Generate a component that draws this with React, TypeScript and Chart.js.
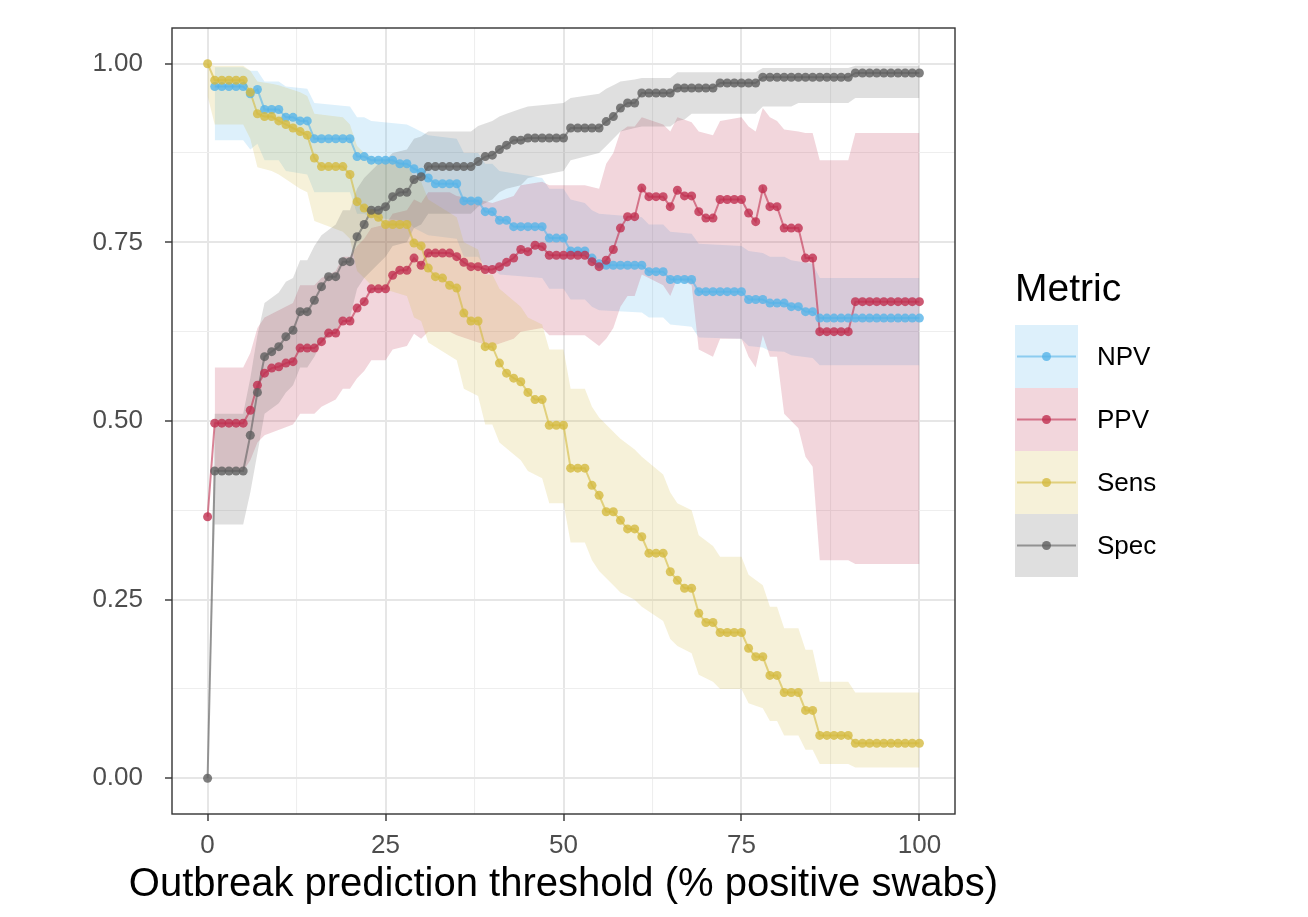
import React, { useEffect, useRef } from "react";
import { Chart, registerables } from "chart.js";

Chart.register(...registerables);

const FONT = "'Liberation Sans', Arial, Helvetica, sans-serif";

// Outbreak prediction threshold (% positive swabs)
const THRESHOLDS = [
  0, 1, 2, 3, 4, 5, 6, 7, 8, 9,
  10, 11, 12, 13, 14, 15, 16, 17, 18, 19,
  20, 21, 22, 23, 24, 25, 26, 27, 28, 29,
  30, 31, 32, 33, 34, 35, 36, 37, 38, 39,
  40, 41, 42, 43, 44, 45, 46, 47, 48, 49,
  50, 51, 52, 53, 54, 55, 56, 57, 58, 59,
  60, 61, 62, 63, 64, 65, 66, 67, 68, 69,
  70, 71, 72, 73, 74, 75, 76, 77, 78, 79,
  80, 81, 82, 83, 84, 85, 86, 87, 88, 89,
  90, 91, 92, 93, 94, 95, 96, 97, 98, 99,
  100,
];

const NPV = [
  null, 0.968, 0.968, 0.968, 0.968, 0.968, 0.958, 0.964, 0.936, 0.936,
  0.936, 0.925, 0.925, 0.92, 0.92, 0.895, 0.895, 0.895, 0.895, 0.895,
  0.895, 0.87, 0.87, 0.865, 0.865, 0.865, 0.865, 0.86, 0.86, 0.853,
  0.848, 0.84, 0.832, 0.832, 0.832, 0.832, 0.808, 0.808, 0.808, 0.793,
  0.793, 0.781, 0.781, 0.772, 0.772, 0.772, 0.772, 0.772, 0.756, 0.756,
  0.756, 0.738, 0.738, 0.738, 0.728, 0.72, 0.718, 0.718, 0.718, 0.718,
  0.718, 0.718, 0.709, 0.709, 0.709, 0.698, 0.698, 0.698, 0.698, 0.681,
  0.681, 0.681, 0.681, 0.681, 0.681, 0.681, 0.67, 0.67, 0.67, 0.665,
  0.665, 0.665, 0.66, 0.66, 0.653, 0.653, 0.644, 0.644, 0.644, 0.644,
  0.644, 0.644, 0.644, 0.644, 0.644, 0.644, 0.644, 0.644, 0.644, 0.644,
  0.644,
];

const PPV = [
  0.366, 0.497, 0.497, 0.497, 0.497, 0.497, 0.515, 0.55, 0.567, 0.574,
  0.576, 0.581, 0.583, 0.602, 0.602, 0.602, 0.611, 0.623, 0.623, 0.64,
  0.64, 0.658, 0.667, 0.685, 0.685, 0.685, 0.704, 0.711, 0.711, 0.728,
  0.718, 0.735, 0.735, 0.735, 0.735, 0.73, 0.722, 0.716, 0.716, 0.712,
  0.712, 0.716, 0.722, 0.728, 0.74, 0.737, 0.746, 0.744, 0.732, 0.732,
  0.732, 0.732, 0.732, 0.732, 0.723, 0.716, 0.725, 0.74, 0.77, 0.786,
  0.786, 0.826, 0.814, 0.814, 0.814, 0.8, 0.823, 0.815, 0.815, 0.793,
  0.784, 0.784, 0.81, 0.81, 0.81, 0.81, 0.791, 0.779, 0.825, 0.8,
  0.8, 0.77, 0.77, 0.77, 0.728, 0.728, 0.625, 0.625, 0.625, 0.625,
  0.625, 0.667, 0.667, 0.667, 0.667, 0.667, 0.667, 0.667, 0.667, 0.667,
  0.667,
];

const SENS = [
  1.0, 0.977, 0.977, 0.977, 0.977, 0.977, 0.96, 0.93, 0.926, 0.926,
  0.92, 0.915, 0.91, 0.905, 0.9, 0.868, 0.856, 0.856, 0.856, 0.856,
  0.845, 0.807, 0.798, 0.79, 0.785, 0.775, 0.775, 0.775, 0.775, 0.749,
  0.745, 0.714, 0.702, 0.7, 0.69, 0.686, 0.651, 0.64, 0.64, 0.604,
  0.604, 0.581, 0.567, 0.56, 0.555, 0.54, 0.53, 0.53, 0.494, 0.494,
  0.494, 0.434, 0.434, 0.434, 0.41, 0.396, 0.373, 0.373, 0.361, 0.349,
  0.349, 0.338, 0.315, 0.315, 0.315, 0.289, 0.277, 0.266, 0.266, 0.231,
  0.218, 0.218, 0.204, 0.204, 0.204, 0.204, 0.182, 0.17, 0.17, 0.144,
  0.144, 0.12, 0.12, 0.12, 0.095, 0.095, 0.06, 0.06, 0.06, 0.06,
  0.06, 0.049, 0.049, 0.049, 0.049, 0.049, 0.049, 0.049, 0.049, 0.049,
  0.049,
];

const SPEC = [
  0.0, 0.43, 0.43, 0.43, 0.43, 0.43, 0.48, 0.54, 0.59, 0.597,
  0.604, 0.618, 0.627, 0.653, 0.653, 0.669, 0.688, 0.702, 0.702, 0.723,
  0.723, 0.758, 0.775, 0.795, 0.795, 0.8, 0.814, 0.82, 0.82, 0.838,
  0.842, 0.856, 0.856, 0.856, 0.856, 0.856, 0.856, 0.856, 0.863, 0.87,
  0.872, 0.88, 0.886, 0.893, 0.893, 0.896, 0.896, 0.896, 0.896, 0.896,
  0.896, 0.91, 0.91, 0.91, 0.91, 0.91, 0.919, 0.926, 0.938, 0.945,
  0.945, 0.959, 0.959, 0.959, 0.959, 0.959, 0.966, 0.966, 0.966, 0.966,
  0.966, 0.966, 0.973, 0.973, 0.973, 0.973, 0.973, 0.973, 0.981, 0.981,
  0.981, 0.981, 0.981, 0.981, 0.981, 0.981, 0.981, 0.981, 0.981, 0.981,
  0.981, 0.987, 0.987, 0.987, 0.987, 0.987, 0.987, 0.987, 0.987, 0.987,
  0.987,
];

// Confidence bands: [threshold, lower, upper]
const NPV_BAND = [
  [1, 0.893, 0.995], [5, 0.893, 0.995], [6, 0.88, 0.99], [7, 0.888, 0.99],
  [8, 0.865, 0.975], [10, 0.865, 0.975], [11, 0.85, 0.968], [14, 0.845, 0.965],
  [15, 0.82, 0.945], [20, 0.82, 0.94], [21, 0.79, 0.925], [22, 0.79, 0.925],
  [23, 0.785, 0.92], [28, 0.78, 0.915], [29, 0.77, 0.91], [31, 0.76, 0.9],
  [35, 0.755, 0.895], [36, 0.73, 0.875], [38, 0.73, 0.875], [39, 0.715, 0.86],
  [40, 0.715, 0.86], [41, 0.705, 0.85], [47, 0.7, 0.84], [48, 0.685, 0.825],
  [50, 0.685, 0.825], [51, 0.67, 0.81], [53, 0.67, 0.805], [54, 0.66, 0.795],
  [55, 0.655, 0.79], [61, 0.652, 0.785], [62, 0.645, 0.775], [64, 0.645, 0.775],
  [65, 0.635, 0.765], [68, 0.632, 0.762], [69, 0.617, 0.748], [75, 0.615, 0.745],
  [76, 0.605, 0.738], [78, 0.603, 0.735], [79, 0.598, 0.73], [81, 0.597, 0.73],
  [82, 0.592, 0.725], [85, 0.588, 0.72], [86, 0.578, 0.7], [100, 0.578, 0.7],
];

const PPV_BAND = [
  [1, 0.43, 0.575], [5, 0.43, 0.575], [6, 0.445, 0.595], [7, 0.47, 0.63],
  [8, 0.48, 0.645], [12, 0.495, 0.665], [13, 0.51, 0.69], [15, 0.51, 0.69],
  [16, 0.52, 0.7], [18, 0.53, 0.71], [19, 0.545, 0.73], [20, 0.545, 0.73],
  [21, 0.56, 0.745], [22, 0.57, 0.755], [23, 0.585, 0.77], [25, 0.585, 0.775],
  [26, 0.6, 0.79], [28, 0.605, 0.795], [29, 0.622, 0.81], [30, 0.615, 0.805],
  [31, 0.625, 0.82], [34, 0.625, 0.82], [35, 0.62, 0.815], [38, 0.61, 0.81],
  [40, 0.605, 0.805], [43, 0.615, 0.815], [44, 0.625, 0.83], [47, 0.63, 0.835],
  [48, 0.62, 0.83], [53, 0.62, 0.83], [55, 0.605, 0.825], [56, 0.615, 0.86],
  [57, 0.63, 0.875], [58, 0.66, 0.905], [59, 0.675, 0.912], [60, 0.675, 0.912],
  [61, 0.705, 0.925], [64, 0.69, 0.915], [65, 0.675, 0.905], [66, 0.7, 0.925],
  [68, 0.69, 0.918], [69, 0.6, 0.905], [71, 0.59, 0.9], [72, 0.615, 0.92],
  [75, 0.615, 0.925], [76, 0.59, 0.912], [77, 0.575, 0.905], [78, 0.62, 0.938],
  [79, 0.59, 0.925], [80, 0.59, 0.92], [81, 0.51, 0.908], [83, 0.49, 0.905],
  [84, 0.45, 0.903], [85, 0.436, 0.903], [86, 0.305, 0.865], [90, 0.305, 0.865],
  [91, 0.3, 0.903], [100, 0.3, 0.903],
];

const SENS_BAND = [
  [0, 0.955, 1.0], [1, 0.915, 0.997], [5, 0.915, 0.997], [6, 0.895, 0.99],
  [7, 0.855, 0.975], [9, 0.85, 0.972], [10, 0.845, 0.97], [13, 0.825, 0.96],
  [14, 0.82, 0.955], [15, 0.78, 0.93], [19, 0.765, 0.925], [20, 0.755, 0.915],
  [21, 0.71, 0.885], [22, 0.7, 0.875], [23, 0.69, 0.87], [28, 0.675, 0.86],
  [29, 0.645, 0.84], [30, 0.64, 0.835], [31, 0.61, 0.81], [35, 0.585, 0.785],
  [36, 0.545, 0.75], [38, 0.535, 0.74], [39, 0.495, 0.705], [40, 0.495, 0.705],
  [41, 0.47, 0.685], [44, 0.445, 0.66], [45, 0.43, 0.645], [47, 0.42, 0.635],
  [48, 0.385, 0.6], [50, 0.385, 0.6], [51, 0.33, 0.545], [53, 0.33, 0.545],
  [54, 0.305, 0.52], [55, 0.29, 0.505], [57, 0.27, 0.485], [58, 0.26, 0.475],
  [60, 0.25, 0.46], [61, 0.24, 0.45], [64, 0.22, 0.425], [65, 0.195, 0.4],
  [66, 0.185, 0.385], [68, 0.175, 0.375], [69, 0.145, 0.34], [71, 0.135, 0.325],
  [72, 0.125, 0.31], [75, 0.125, 0.31], [76, 0.105, 0.285], [78, 0.098, 0.27],
  [79, 0.08, 0.24], [80, 0.08, 0.24], [81, 0.06, 0.21], [83, 0.06, 0.21],
  [84, 0.04, 0.18], [85, 0.04, 0.18], [86, 0.02, 0.135], [90, 0.02, 0.135],
  [91, 0.015, 0.12], [100, 0.015, 0.12],
];

const SPEC_BAND = [
  [0, 0.0, 0.03], [1, 0.355, 0.51], [5, 0.355, 0.51], [6, 0.4, 0.56],
  [7, 0.455, 0.62], [8, 0.51, 0.665], [10, 0.525, 0.68], [11, 0.54, 0.695],
  [12, 0.55, 0.7], [13, 0.575, 0.725], [14, 0.575, 0.725], [15, 0.59, 0.745],
  [16, 0.61, 0.76], [18, 0.625, 0.775], [19, 0.645, 0.795], [20, 0.645, 0.795],
  [21, 0.685, 0.825], [22, 0.7, 0.84], [24, 0.72, 0.86], [25, 0.73, 0.865],
  [26, 0.745, 0.875], [28, 0.75, 0.88], [29, 0.77, 0.895], [30, 0.775, 0.898],
  [31, 0.79, 0.905], [37, 0.79, 0.905], [38, 0.8, 0.913], [40, 0.81, 0.92],
  [41, 0.82, 0.926], [42, 0.825, 0.93], [44, 0.83, 0.937], [45, 0.84, 0.94],
  [50, 0.85, 0.945], [51, 0.865, 0.952], [55, 0.875, 0.958], [56, 0.885, 0.965],
  [57, 0.895, 0.97], [58, 0.905, 0.975], [60, 0.91, 0.978], [61, 0.912, 0.98],
  [65, 0.912, 0.98], [66, 0.92, 0.988], [67, 0.922, 0.988], [68, 0.93, 0.988],
  [77, 0.93, 0.988], [78, 0.94, 0.994], [82, 0.94, 0.994], [83, 0.945, 0.994],
  [90, 0.945, 0.994], [91, 0.952, 0.997], [100, 0.952, 0.997],
];

const SERIES_NAMES = ["NPV", "PPV", "Sens", "Spec"];
const SERIES_VALUES = [NPV, PPV, SENS, SPEC];
const SERIES_BANDS = [NPV_BAND, PPV_BAND, SENS_BAND, SPEC_BAND];
const SERIES_RGB = [
  [86, 180, 233],
  [192, 48, 80],
  [212, 186, 64],
  [95, 95, 95],
];

const X_TICKS = [0, 25, 50, 75, 100];
const X_MINOR = [12.5, 37.5, 62.5, 87.5];
const Y_TICKS = [0, 0.25, 0.5, 0.75, 1];
const Y_MINOR = [0.125, 0.375, 0.625, 0.875];

const X_TITLE = "Outbreak prediction threshold (% positive swabs)";
const LEGEND_TITLE = "Metric";

const rgba = (c: number[], a: number) => `rgba(${c[0]},${c[1]},${c[2]},${a})`;
const RIBBON_A = 0.2;
const LINE_A = 0.6;
const POINT_A = 0.8;

function buildDatasets() {
  const ds: any[] = [];
  SERIES_NAMES.forEach((name, k) => {
    const c = SERIES_RGB[k];
    const band = SERIES_BANDS[k];
    const ord = 3 - k;
    ds.push({
      label: name + " lo",
      data: band.map((b) => ({ x: b[0], y: b[1] })),
      borderColor: "rgba(0,0,0,0)",
      borderWidth: 0,
      pointRadius: 0,
      fill: false,
      order: 200 + ord,
    });
    ds.push({
      label: name + " hi",
      data: band.map((b) => ({ x: b[0], y: b[2] })),
      borderColor: "rgba(0,0,0,0)",
      borderWidth: 0,
      pointRadius: 0,
      backgroundColor: rgba(c, RIBBON_A),
      fill: "-1",
      order: 200 + ord,
    });
  });
  SERIES_NAMES.forEach((name, k) => {
    const c = SERIES_RGB[k];
    const vals = SERIES_VALUES[k];
    const pts = THRESHOLDS.map((x, i) => ({ x, y: vals[i] })).filter((p) => p.y !== null);
    ds.push({
      label: name + " line",
      data: pts,
      borderColor: rgba(c, LINE_A),
      borderWidth: 2,
      pointRadius: 0,
      fill: false,
      order: 50 + (3 - k),
    });
    ds.push({
      label: name,
      data: pts,
      showLine: false,
      pointRadius: 4.5,
      pointBorderWidth: 0,
      pointBackgroundColor: rgba(c, POINT_A),
      pointBorderColor: "rgba(0,0,0,0)",
      fill: false,
      order: 10 + (3 - k),
    });
  });
  return ds;
}

const decorPlugin = {
  id: "decor",
  afterDatasetsDraw(chart: any) {
    const { ctx, chartArea: a } = chart;
    ctx.save();
    ctx.strokeStyle = "#333333";
    ctx.lineWidth = 1.4;
    ctx.strokeRect(a.left, a.top, a.right - a.left, a.bottom - a.top);
    ctx.restore();
  },
  afterDraw(chart: any) {
    const { ctx, chartArea: a } = chart;
    ctx.save();
    // x axis title
    ctx.fillStyle = "#000000";
    ctx.font = `40px ${FONT}`;
    ctx.textAlign = "center";
    ctx.textBaseline = "middle";
    ctx.fillText(X_TITLE, (a.left + a.right) / 2, 885);

    // legend
    ctx.textAlign = "left";
    ctx.font = `39px ${FONT}`;
    ctx.fillText(LEGEND_TITLE, 1015, 290);
    const keyX = 1015;
    const keyW = 63;
    const keyH = 63;
    const top0 = 325;
    SERIES_NAMES.forEach((name, k) => {
      const c = SERIES_RGB[k];
      const y0 = top0 + k * keyH;
      const cy = y0 + keyH / 2;
      ctx.fillStyle = rgba(c, RIBBON_A);
      ctx.fillRect(keyX, y0, keyW, keyH);
      ctx.strokeStyle = rgba(c, LINE_A);
      ctx.lineWidth = 2;
      ctx.beginPath();
      ctx.moveTo(keyX + 2, cy);
      ctx.lineTo(keyX + keyW - 2, cy);
      ctx.stroke();
      ctx.fillStyle = rgba(c, POINT_A);
      ctx.beginPath();
      ctx.arc(keyX + keyW / 2, cy, 4.5, 0, Math.PI * 2);
      ctx.fill();
      ctx.fillStyle = "#000000";
      ctx.font = `26px ${FONT}`;
      ctx.textBaseline = "middle";
      ctx.fillText(name, 1097, cy + 1);
    });
    ctx.restore();
  },
};

function isIn(list: number[], v: number) {
  return list.some((t) => Math.abs(t - v) < 1e-9);
}

export default function App() {
  const ref = useRef<HTMLCanvasElement | null>(null);

  useEffect(() => {
    if (!ref.current) return;
    const chart = new Chart(ref.current, {
      type: "line",
      data: { datasets: buildDatasets() },
      plugins: [decorPlugin],
      options: {
        responsive: false,
        animation: false,
        events: [],
        layout: { padding: { left: 0, right: 353, top: 28, bottom: 0 } },
        plugins: {
          legend: { display: false },
          tooltip: { enabled: false },
          title: { display: false },
          filler: { drawTime: "beforeDatasetsDraw" },
        },
        scales: {
          x: {
            type: "linear",
            min: -5,
            max: 105,
            afterFit: (s: any) => {
              s.height = 103;
              s.paddingLeft = 0;
              s.paddingRight = 0;
            },
            afterBuildTicks: (s: any) => {
              s.ticks = [...X_TICKS, ...X_MINOR].sort((p, q) => p - q).map((v) => ({ value: v }));
            },
            border: { display: false },
            grid: {
              color: (ctx: any) => (ctx.tick && isIn(X_TICKS, ctx.tick.value) ? "#E6E6E6" : "#EEEEEE"),
              lineWidth: (ctx: any) => (ctx.tick && isIn(X_TICKS, ctx.tick.value) ? 2 : 1.1),
              tickColor: (ctx: any) => (ctx.tick && isIn(X_TICKS, ctx.tick.value) ? "#333333" : "rgba(0,0,0,0)"),
              tickWidth: 1.4,
              tickLength: 7,
              drawTicks: true,
            },
            ticks: {
              autoSkip: false,
              maxRotation: 0,
              padding: 9,
              color: "#4D4D4D",
              font: { family: FONT, size: 26 },
              callback: (v: any) => (isIn(X_TICKS, Number(v)) ? String(v) : ""),
            },
          },
          y: {
            type: "linear",
            min: -0.05,
            max: 1.05,
            afterFit: (s: any) => {
              s.width = 172;
              s.paddingTop = 0;
              s.paddingBottom = 0;
            },
            afterBuildTicks: (s: any) => {
              s.ticks = [...Y_TICKS, ...Y_MINOR].sort((p, q) => p - q).map((v) => ({ value: v }));
            },
            border: { display: false },
            grid: {
              color: (ctx: any) => (ctx.tick && isIn(Y_TICKS, ctx.tick.value) ? "#E6E6E6" : "#EEEEEE"),
              lineWidth: (ctx: any) => (ctx.tick && isIn(Y_TICKS, ctx.tick.value) ? 2 : 1.1),
              tickColor: (ctx: any) => (ctx.tick && isIn(Y_TICKS, ctx.tick.value) ? "#333333" : "rgba(0,0,0,0)"),
              tickWidth: 1.4,
              tickLength: 7,
              drawTicks: true,
            },
            ticks: {
              autoSkip: false,
              padding: 22,
              color: "#4D4D4D",
              font: { family: FONT, size: 26 },
              callback: (v: any) => (isIn(Y_TICKS, Number(v)) ? Number(v).toFixed(2) : ""),
            },
          },
        },
      } as any,
    });
    return () => chart.destroy();
  }, []);

  return (
    <div style={{ position: "absolute", left: 0, top: 0, width: 1308, height: 917, background: "#ffffff" }}>
      <canvas ref={ref} width={1308} height={917} style={{ display: "block" }} />
    </div>
  );
}
